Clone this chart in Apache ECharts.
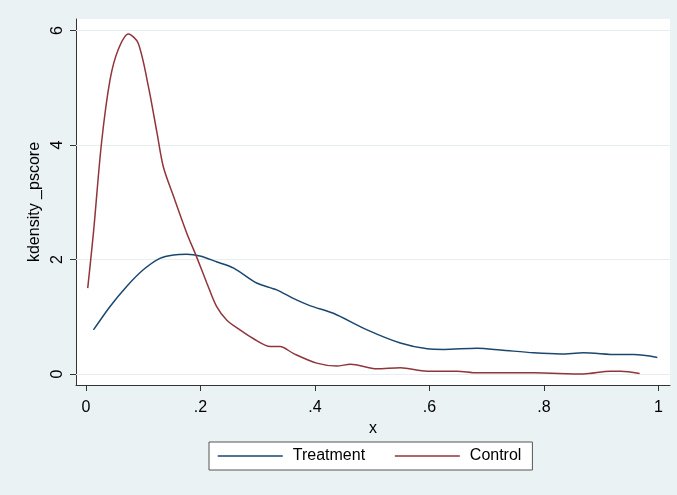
<!DOCTYPE html>
<html>
<head>
<meta charset="utf-8">
<script src="https://cdn.jsdelivr.net/npm/echarts@6/dist/echarts.min.js"></script>
<style>
  html, body { margin: 0; padding: 0; background: #eaf2f3; }
  #kdens { width: 677px; height: 495px; }
</style>
</head>
<body>
<div id="kdens"></div>
<script>
// kdensity 曲线，读图估计
var treatX = [0.013, 0.042, 0.071, 0.100, 0.129, 0.153, 0.176, 0.199, 0.228, 0.258, 0.298, 0.333, 0.362, 0.392, 0.432, 0.491, 0.549, 0.596, 0.625, 0.683, 0.724, 0.782, 0.829, 0.869, 0.928, 0.957, 0.998];
var treatY = [0.77, 1.18, 1.53, 1.82, 2.02, 2.08, 2.09, 2.06, 1.96, 1.85, 1.59, 1.47, 1.32, 1.19, 1.06, 0.77, 0.54, 0.44, 0.43, 0.45, 0.42, 0.37, 0.35, 0.37, 0.34, 0.34, 0.29];

var ctrlX = [0.003, 0.013, 0.027, 0.042, 0.056, 0.074, 0.091, 0.109, 0.124, 0.135, 0.153, 0.176, 0.193, 0.211, 0.228, 0.246, 0.269, 0.292, 0.322, 0.339, 0.362, 0.403, 0.438, 0.462, 0.508, 0.549, 0.596, 0.648, 0.683, 0.782, 0.869, 0.916, 0.934, 0.967];
var ctrlY = [1.50, 2.47, 4.03, 5.14, 5.66, 5.94, 5.78, 5.02, 4.21, 3.62, 3.10, 2.46, 2.05, 1.59, 1.18, 0.94, 0.77, 0.62, 0.48, 0.48, 0.36, 0.19, 0.14, 0.17, 0.09, 0.11, 0.05, 0.05, 0.02, 0.02, 0.00, 0.05, 0.05, 0.01];

var xTicks = [0, 0.2, 0.4, 0.6, 0.8, 1];
var yTicks = [0, 2, 4, 6];
var seriesNames = ['Treatment', 'Control'];

function pairs(xs, ys) {
    return xs.map(function (x, i) { return [x, ys[i]]; });
}

var chart = echarts.init(document.getElementById('kdens'));

var option = {
    backgroundColor: '#eaf2f3',
    textStyle: { fontFamily: 'Liberation Sans, Arial, sans-serif', color: '#000' },
    grid: {
        left: 76, right: 7, top: 19, bottom: 110,
        show: true, backgroundColor: '#fff', borderWidth: 0
    },
    legend: {
        data: seriesNames,
        left: 209, top: 442,
        padding: [6, 11, 6, 8],
        itemWidth: 65, itemHeight: 14,
        itemGap: 29,
        backgroundColor: '#fff',
        borderColor: '#555', borderWidth: 1, borderRadius: 0,
        itemStyle: { opacity: 0, borderWidth: 0 },
        lineStyle: { width: 1.5 },
        textStyle: { fontSize: 16, color: '#000', padding: [0, 0, 0, 5] }
    },
    xAxis: {
        type: 'value',
        min: -0.0175, max: 1.0201,
        name: 'x', nameLocation: 'middle', nameGap: 30,
        nameTextStyle: { fontSize: 16, color: '#000' },
        axisLine: { show: true, onZero: false, lineStyle: { color: '#333', width: 1 } },
        axisTick: { show: true, length: 6, customValues: xTicks, lineStyle: { color: '#333' } },
        axisLabel: {
            customValues: xTicks, margin: 15, fontSize: 16, color: '#000',
            formatter: function (v) {
                if (v === 0 || v === 1) return String(v);
                return String(+v.toFixed(1)).replace(/^0/, '');
            }
        },
        splitLine: { show: false }
    },
    yAxis: {
        type: 'value',
        min: -0.192, max: 6.20,
        name: 'kdensity _pscore', nameLocation: 'middle', nameGap: 28,
        nameTextStyle: { fontSize: 16, color: '#000' },
        axisLine: { show: true, onZero: false, lineStyle: { color: '#333', width: 1 } },
        axisTick: { show: true, length: 6, customValues: yTicks, lineStyle: { color: '#333' } },
        axisLabel: { customValues: yTicks, rotate: 90, margin: 10, fontSize: 16, color: '#000' },
        splitLine: { show: false }
    },
    series: [
        {
            name: 'grid',
            type: 'line',
            data: [],
            silent: true,
            z: 1,
            markLine: {
                silent: true,
                z: 1,
                symbol: 'none',
                label: { show: false },
                lineStyle: { color: '#e6eeef', width: 1, type: 'solid' },
                data: yTicks.map(function (v) { return { yAxis: v }; })
            }
        },
        {
            name: 'Treatment',
            type: 'line',
            data: pairs(treatX, treatY),
            smooth: 0.3,
            symbol: 'none',
            z: 3,
            lineStyle: { color: '#1a476f', width: 1.5 },
            itemStyle: { color: '#1a476f' }
        },
        {
            name: 'Control',
            type: 'line',
            data: pairs(ctrlX, ctrlY),
            smooth: 0.3,
            symbol: 'none',
            z: 3,
            lineStyle: { color: '#90353b', width: 1.5 },
            itemStyle: { color: '#90353b' }
        }
    ]
};

chart.setOption(option);
</script>
</body>
</html>
